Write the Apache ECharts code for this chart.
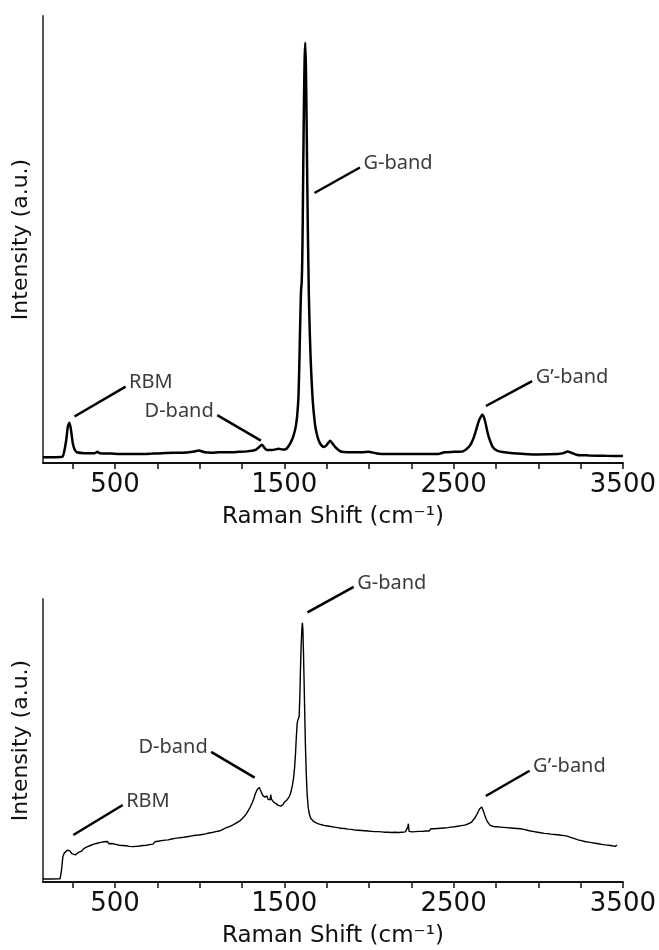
<!DOCTYPE html>
<html><head><meta charset="utf-8">
<script src="https://cdn.jsdelivr.net/npm/echarts@6/dist/echarts.min.js"></script>
<style>html,body{margin:0;padding:0;background:#fff}#c{width:659px;height:950px}</style>
</head><body><div id="c"></div>
<script>
// ---- axis ticks / labels ----
const tickValues = [250,500,750,1000,1250,1500,1750,2000,2250,2500,2750,3000,3250,3500];
const labelValues = [500,1500,2500,3500];
const xTitle = 'Raman Shift (cm\u207B\u00B9)';
const yTitle = 'Intensity (a.u.)';

// ---- top spectrum: [Raman shift, intensity a.u.] ----
const topSpectrum = [
[75,1.3],[150,1.3],[190,1.4],[200,2.5],[212,5.1],[222,8.2],[231,9.0],[240,7.5],[251,4.4],[262,3.0],[275,2.4],[320,2.2],[380,2.2],[396,2.5],[410,2.2],[480,2.1],[564,2.0],[650,2.0],[720,2.1],[780,2.2],[839,2.3],[900,2.3],[960,2.5],[996,2.8],[1030,2.4],[1074,2.3],[1114,2.4],[1180,2.4],[1231,2.5],[1280,2.6],[1329,2.9],[1350,3.5],[1368,4.1],[1385,3.3],[1398,2.9],[1430,2.9],[1466,3.2],[1490,3.0],[1506,3.0],[1520,3.5],[1535,4.4],[1550,5.6],[1561,7.0],[1568,8.2],[1576,10.5],[1584,15],[1590,24],[1595,33],[1599,38.5],[1603,40.5],[1606,45],[1609,54],[1612,66],[1616,80],[1620,90],[1624,94],[1628,88],[1632,76],[1636,62],[1640,50],[1645,38],[1650,30],[1656,23],[1662,18],[1668,14],[1676,10.5],[1684,8],[1694,6.2],[1704,5],[1718,4],[1735,3.6],[1750,4.0],[1762,4.6],[1771,5.0],[1782,4.5],[1800,3.6],[1820,2.9],[1839,2.5],[1900,2.4],[1960,2.4],[1996,2.5],[2040,2.2],[2094,2.0],[2200,2.0],[2300,2.0],[2408,2.0],[2447,2.4],[2500,2.5],[2555,2.6],[2590,3.6],[2604,4.4],[2620,5.8],[2633,7.4],[2650,9.5],[2665,10.6],[2672,10.8],[2685,9.5],[2702,6.6],[2717,4.8],[2731,3.6],[2755,2.8],[2780,2.5],[2850,2.2],[2996,1.9],[3114,2.0],[3150,2.2],[3172,2.6],[3195,2.3],[3231,1.8],[3300,1.7],[3400,1.6],[3500,1.57]
];

// ---- bottom spectrum: [Raman shift, intensity a.u.] ----
const bottomSpectrum = [
[75,1.06],[120,1.06],[176,1.1],[185,4.5],[192,8.9],[200,10.2],[210,10.9],[220,11.3],[227,11.6],[235,10.9],[245,10.0],[255,9.5],[266,9.6],
[275,10.3],[285,10.5],[295,11.2],[305,11.0],[315,11.8],[325,11.6],[335,12.4],[345,12.1],[355,12.9],[365,12.6],[375,13.4],[385,12.9],[395,13.7],[405,13.2],[415,14.0],[425,13.5],[435,14.2],[445,13.6],[455,14.3],[465,13.5],[475,14.1],[485,13.6],[495,14.0],[505,13.3],[515,13.8],[525,13.0],[535,13.6],[545,12.9],[555,13.5],[565,12.8],[575,13.3],[585,12.6],[595,13.2],[605,12.5],[615,13.1],[625,12.6],[635,13.3],[645,12.7],[655,13.4],[665,12.9],[675,13.6],[685,13.0],[695,13.7],[705,13.2],[715,13.9],[725,13.4],[735,14.2],[745,13.7],[755,14.4],[765,13.9],[775,14.6],[785,14.0],[795,14.8],[805,14.3],[815,14.9],[825,14.5],[835,15.2],[845,14.7],[855,15.4],[865,14.9],[875,15.6],[885,15.0],[895,15.7],[905,15.2],[915,15.9],[925,15.4],[935,16.1],[945,15.6],[955,16.3],[965,15.8],[975,16.5],[985,16.0],[995,16.6],[1005,16.1],[1015,16.8],[1025,16.3],[1035,17.0],[1045,16.6],[1055,17.3],[1065,16.8],[1075,17.5],[1085,17.0],[1095,17.8],[1105,17.3],[1115,18.0],[1125,17.7],[1135,18.5],[1145,18.3],[1155,19.1],[1165,18.8],[1175,19.6],[1185,19.3],[1195,20.1],[1205,19.9],[1215,20.8],[1225,20.5],[1235,21.5],[1245,21.4],[1255,22.6],[1265,22.8],[1275,24.0],[1285,24.5],[1295,26.0],[1303,26.6],[1312,28.2],[1320,29.4],[1328,31.0],[1335,31.6],[1341,32.8],[1347,32.9],[1353,33.4],[1358,32.6],[1363,32.9],[1368,31.3],[1374,30.5],[1380,31.1],[1386,30.0],[1392,29.6],[1398,30.4],[1404,29.2],[1410,29.5],[1416,29.0],[1420,30.9],[1424,29.3],[1430,28.9],[1437,28.2],[1444,28.6],[1451,27.7],[1458,27.9],[1465,27.1],[1472,27.3],[1479,26.8],[1486,27.5],[1493,27.4],[1500,28.2],[1507,28.0],[1514,28.9],[1521,29.1],[1528,30.0],[1535,31.0],[1542,32.5],[1549,34.5],[1555,36.8],[1561,40.5],[1566,45],[1571,51],[1576,56],[1580,57.2],[1584,56.5],[1588,58.5],[1592,66],[1596,76],[1600,84],[1604,89.5],[1607,91.6],[1610,89],[1613,82],[1617,71],[1621,59],[1625,48],[1630,38],[1635,31],[1641,26.5],[1648,24.0],[1656,22.5],[1665,22.0],[1675,21.3],[1685,21.6],[1695,20.7],[1705,21.2],[1715,20.3],[1725,20.9],[1735,20.0],[1745,20.6],[1755,19.8],[1765,20.4],[1775,19.6],[1785,20.2],[1795,19.4],[1805,20.0],[1815,19.2],[1825,19.8],[1835,19.0],[1845,19.6],[1855,18.9],[1865,19.5],[1875,18.7],[1885,19.3],[1895,18.6],[1905,19.2],[1915,18.4],[1925,19.0],[1935,18.3],[1945,18.9],[1955,18.2],[1965,18.8],[1975,18.1],[1985,18.7],[1995,18.0],[2005,18.6],[2015,17.9],[2025,18.5],[2035,17.8],[2045,18.4],[2055,17.8],[2065,18.4],[2075,17.7],[2085,18.3],[2095,17.6],[2105,18.2],[2115,17.6],[2125,18.3],[2135,17.5],[2145,18.1],[2155,17.6],[2165,18.2],[2175,17.5],[2185,18.2],[2195,17.6],[2205,18.3],[2215,17.7],[2225,18.2],[2230,19.5],[2233,20.6],[2237,17.9],[2245,18.4],[2255,17.7],[2265,18.4],[2275,17.8],[2285,18.5],[2295,17.9],[2305,18.6],[2315,17.9],[2325,18.6],[2335,18.0],[2345,18.7],[2355,18.0],[2365,18.8],[2375,18.1],[2385,18.8],[2395,18.2],[2405,18.9],[2415,18.3],[2425,19.0],[2435,18.4],[2445,19.1],[2455,18.5],[2465,19.2],[2475,18.7],[2485,19.4],[2495,18.8],[2505,19.5],[2515,19.0],[2525,19.7],[2535,19.2],[2545,19.9],[2555,19.5],[2565,20.1],[2575,19.8],[2585,20.5],[2595,20.4],[2605,21.1],[2615,21.5],[2625,22.6],[2635,23.6],[2645,24.8],[2653,25.8],[2660,26.2],[2666,26.5],[2672,25.7],[2679,24.6],[2686,23.2],[2693,22.2],[2700,21.3],[2708,20.9],[2716,20.0],[2725,20.4],[2735,19.6],[2745,20.2],[2755,19.5],[2765,20.1],[2775,19.4],[2785,20.0],[2795,19.3],[2805,19.9],[2815,19.2],[2825,19.8],[2835,19.1],[2845,19.7],[2855,19.0],[2865,19.6],[2875,18.9],[2885,19.5],[2895,18.8],[2905,19.4],[2915,18.6],[2925,19.1],[2935,18.3],[2945,18.8],[2955,18.0],[2965,18.5],[2975,17.8],[2985,18.3],[2995,17.6],[3005,18.1],[3015,17.4],[3025,17.9],[3035,17.2],[3045,17.8],[3055,17.1],[3065,17.6],[3075,16.9],[3085,17.5],[3095,16.8],[3105,17.3],[3115,16.7],[3125,17.2],[3135,16.5],[3145,17.1],[3155,16.4],[3165,16.9],[3175,16.1],[3185,16.5],[3195,15.7],[3205,16.1],[3215,15.3],[3225,15.7],[3235,14.9],[3245,15.4],[3255,14.6],[3265,15.1],[3275,14.3],[3285,14.8],[3295,14.1],[3305,14.6],[3315,13.9],[3325,14.4],[3335,13.7],[3345,14.2],[3355,13.5],[3365,14.0],[3375,13.3],[3385,13.9],[3395,13.1],[3405,13.7],[3415,13.0],[3425,13.5],[3435,12.8],[3445,13.4],[3455,12.6],[3465,13.1]
];

// ---- annotations: label, leader line from (x0,y0) to (x1,y1); label sits past (x1,y1) ----
const topLabels = ['RBM','D-band','G-band','G\u2019-band'];
const topLeaders = [[261,10.4,563,17.1],[1362,5.0,1104,10.7],[1678,60.4,1947,66.1],[2691,12.75,2964,18.3]];
const bottomLabels = ['RBM','D-band','G-band','G\u2019-band'];
const bottomLeaders = [[254,16.6,546,27.2],[1325,36.9,1068,46.0],[1637,95.3,1910,104.3],[2690,30.4,2949,39.3]];

const FONT_AX = 'DejaVu Sans';
const FONT_AN = 'Noto Sans';

function annoRenderer(labels){
  return function(params, api){
    const p0 = api.coord([api.value(0), api.value(1)]);
    const p1 = api.coord([api.value(2), api.value(3)]);
    const dx = p1[0]-p0[0], dy = p1[1]-p0[1];
    const L = Math.hypot(dx, dy) || 1;
    const ux = dx/L, uy = dy/L;
    return {type:'group', children:[
      {type:'line', shape:{x1:p0[0],y1:p0[1],x2:p1[0],y2:p1[1]}, style:{stroke:'#000', lineWidth:2.5}},
      {type:'text', x:p1[0]+ux*4, y:p1[1]+uy*4-2,
       style:{text:labels[params.dataIndex], fill:'#3c3c3c', font:'20px "'+FONT_AN+'"',
              align: ux>0?'left':'right', verticalAlign:'middle'}}
    ]};
  };
}

function makeX(gi){
  return {
    type:'value', gridIndex:gi, min:75, max:3500,
    axisLine:{show:true, onZero:false, lineStyle:{color:'#111', width:2}},
    axisTick:{show:true, customValues:tickValues, length:6, lineStyle:{color:'#111', width:1.5}},
    axisLabel:{customValues:labelValues, formatter:function(v){return String(v);},
               fontFamily:FONT_AX, fontSize:26, color:'#111', margin:9},
    splitLine:{show:false},
    name:xTitle, nameLocation:'middle', nameGap:43,
    nameTextStyle:{fontFamily:FONT_AX, fontSize:23, color:'#111'}
  };
}
function makeY(gi){
  return {
    type:'value', gridIndex:gi, min:0, max:100,
    axisLine:{show:true, onZero:false, lineStyle:{color:'#555', width:2}},
    axisTick:{show:false}, axisLabel:{show:false}, splitLine:{show:false},
    name:yTitle, nameLocation:'middle', nameGap:11,
    nameTextStyle:{fontFamily:FONT_AX, fontSize:22, color:'#111'}
  };
}

const chart = echarts.init(document.getElementById('c'), null, {renderer:'canvas'});
chart.setOption({
  animation:false,
  backgroundColor:'#fff',
  grid:[{left:43, right:34, top:16, height:447},{left:43, right:34, top:599, height:283}],
  xAxis:[makeX(0), makeX(1)],
  yAxis:[makeY(0), makeY(1)],
  series:[
    {type:'line', xAxisIndex:0, yAxisIndex:0, data:topSpectrum, showSymbol:false, smooth:0.2,
     lineStyle:{color:'#000', width:2.5}},
    {type:'line', xAxisIndex:1, yAxisIndex:1, data:bottomSpectrum, showSymbol:false,
     lineStyle:{color:'#000', width:1.4}},
    {type:'custom', xAxisIndex:0, yAxisIndex:0, data:topLeaders, encode:{x:[0,2], y:[1,3]},
     renderItem:annoRenderer(topLabels), clip:false},
    {type:'custom', xAxisIndex:1, yAxisIndex:1, data:bottomLeaders, encode:{x:[0,2], y:[1,3]},
     renderItem:annoRenderer(bottomLabels), clip:false}
  ]
});
</script></body></html>
